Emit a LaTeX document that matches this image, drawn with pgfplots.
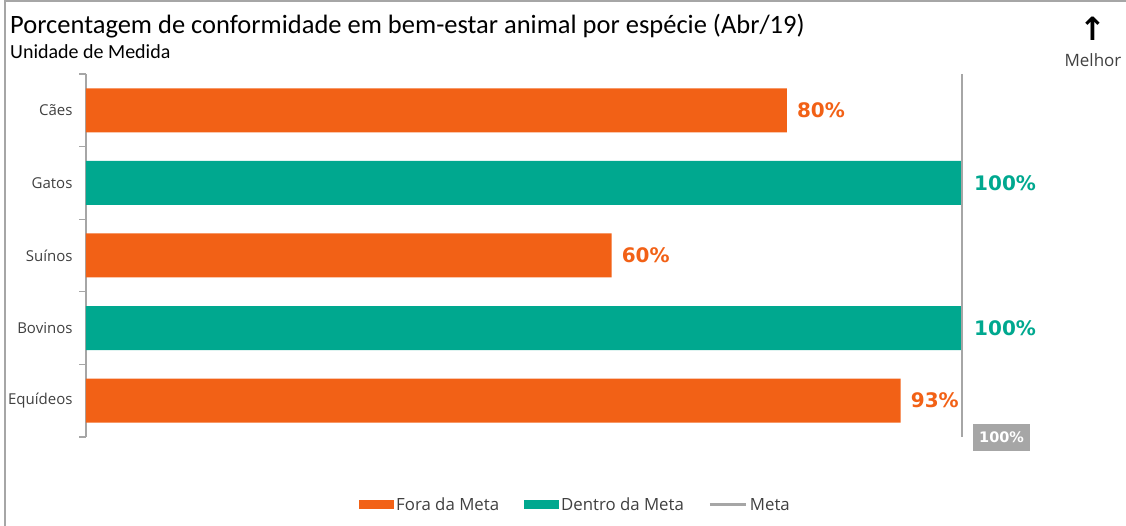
\documentclass[border=0pt]{standalone}
\usepackage{pgfplots}
\pgfplotsset{compat=1.18}
\usepackage{fontspec}
\setmainfont{Carlito}
\newfontfamily\osans{Open Sans}
\newfontfamily\dejavu{DejaVu Sans}
\definecolor{fora}{HTML}{F26116}
\definecolor{dentro}{HTML}{00A88F}
\definecolor{meta}{HTML}{A6A6A6}
\definecolor{txt}{HTML}{404040}
\begin{document}
\begin{tikzpicture}[x=1pt,y=1pt]
\path[use as bounding box] (0,0) rectangle (1126,526);
\draw[meta, line width=2pt] (5,0) -- (5,525) -- (1126,525);
\node[anchor=base west, inner sep=0pt, font=\fontsize{26.5}{30}\selectfont] at (10,492) {Porcentagem de conformidade em bem-estar animal por espécie (Abr/19)};
\node[anchor=base west, inner sep=0pt, font=\fontsize{20}{23}\selectfont] at (10,467) {Unidade de Medida};
\node[inner sep=0pt, font=\dejavu\bfseries\fontsize{32}{32}\selectfont] at (1093,497) {↑};
\node[inner sep=0pt, font=\osans\fontsize{17}{19}\selectfont, text=txt] at (1093,466) {Melhor};
\begin{axis}[
  at={(86pt,89pt)}, anchor=south west,
  width=876pt, height=363pt, scale only axis,
  xmin=0, xmax=100, ymin=-0.5, ymax=4.5, y dir=reverse,
  axis x line=none, axis y line*=left,
  /pgf/number format/assume math mode=true,
  y axis line style={meta, line width=1.2pt},
  ytick={0,1,2,3,4},
  yticklabels={Cães,Gatos,Suínos,Bovinos,Equídeos},
  major tick length=0pt,
  minor ytick={-0.5,0.5,1.5,2.5,3.5,4.5},
  minor tick length=7pt, tick align=outside,
  minor tick style={meta, line width=1.2pt},
  yticklabel style={font=\osans\fontsize{15}{17}\selectfont, text=txt, xshift=-10pt},
  clip=false,
  legend style={draw=none, at={(0.5588,-0.187)}, anchor=center,
    font=\osans\fontsize{16.8}{19}\selectfont, text=txt,
    legend columns=3,
    /tikz/every even column/.append style={column sep=22pt},
    nodes={inner sep=2.5pt}},
]
\addplot[xbar, bar width=44pt, bar shift=0pt, fill=fora, draw=none,
  point meta=x,
  nodes near coords={\pgfmathprintnumber[assume math mode=true]{\pgfplotspointmeta}\%},
  every node near coord/.append style={anchor=west, inner sep=0pt, xshift=10pt,
    font=\dejavu\bfseries\fontsize{20}{22}\selectfont, text=fora},
  legend image code/.code={\fill[fora] (0pt,-4.5pt) rectangle (35pt,4.5pt);}]
  coordinates {(80,0) (60,2) (93,4)};
\addlegendentry{Fora da Meta}
\addplot[xbar, bar width=44pt, bar shift=0pt, fill=dentro, draw=none,
  point meta=x,
  nodes near coords={\pgfmathprintnumber[assume math mode=true]{\pgfplotspointmeta}\%},
  every node near coord/.append style={anchor=west, inner sep=0pt, xshift=12pt,
    font=\dejavu\bfseries\fontsize{20}{22}\selectfont, text=dentro},
  legend image code/.code={\fill[dentro] (0pt,-4.5pt) rectangle (35pt,4.5pt);}]
  coordinates {(100,1) (100,3)};
\addlegendentry{Dentro da Meta}
\addplot[meta, line width=2.5pt,
  legend image code/.code={\draw[meta, line width=3pt] (0pt,0pt) -- (36pt,0pt);}]
  coordinates {(100,-0.5) (100,4.5)};
\addlegendentry{Meta}
\node[fill=meta, text=white, anchor=west, inner xsep=6pt, minimum height=27pt,
  font=\dejavu\bfseries\fontsize{14.5}{16}\selectfont, xshift=11pt]
  at (axis cs:100,4.5) {100\%};
\end{axis}
\end{tikzpicture}
\end{document}
